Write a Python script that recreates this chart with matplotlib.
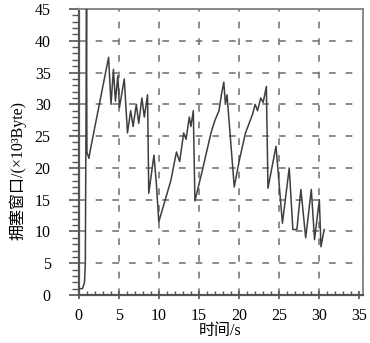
import numpy as np
import matplotlib
matplotlib.use('Agg')
import matplotlib.pyplot as plt
from matplotlib.ticker import MultipleLocator

# congestion window trace
time_s = [0, 0.5, 0.75, 0.85, 1.0, 1.05, 1.3, 1.5,
          3.75, 4.05, 4.35, 4.6, 4.9, 5.1, 5.7, 6.1, 6.5, 6.8, 7.2, 7.5,
          7.9, 8.2, 8.6, 8.75, 9.4, 9.7, 10.0,
          11.5, 12.2, 12.6, 13.1, 13.4, 13.8, 14.0, 14.3, 14.5,
          15.5, 16.5, 17.0, 17.5, 17.8, 18.1, 18.3, 18.5, 19.4,
          20.0, 20.8, 21.7, 22.0, 22.3, 22.7, 23.0, 23.4, 23.6,
          24.6, 25.4, 26.25, 26.7, 27.2, 27.7, 28.3, 29.0, 29.4, 30.0, 30.2, 30.6]
cwnd_kb = [1.0, 1.0, 2.0, 5.0, 45.0, 22.5, 21.5, 23.0,
           37.4, 30.0, 35.5, 30.5, 34.5, 29.5, 34.0, 25.5, 29.0, 26.5, 30.0, 27.0,
           31.0, 28.0, 31.5, 16.0, 22.0, 17.5, 11.5,
           18.0, 22.5, 21.0, 25.5, 24.5, 28.0, 26.5, 29.0, 14.8,
           20.0, 25.5, 27.5, 29.0, 31.5, 33.5, 30.0, 31.5, 17.0,
           21.0, 25.5, 28.5, 30.0, 29.0, 31.0, 30.3, 32.8, 16.8,
           23.4, 11.3, 20.0, 10.3, 10.3, 16.6, 9.0, 16.6, 8.7, 15.0, 7.6, 10.3]

x_ticks = np.arange(0, 36, 5)
y_ticks = np.arange(0, 46, 5)

serif_cjk = ['Liberation Serif', 'Noto Sans CJK SC']

fig = plt.figure(figsize=(3.7, 3.43), dpi=100)
ax = fig.add_axes([78.5/370, 48/343, 284.2/370, 286/343])

ax.plot(time_s, cwnd_kb, color='#3f3f3f', lw=1.1, zorder=3)

ax.set_xlim(0, 35.4)
ax.set_ylim(0, 45)
ax.set_xticks(x_ticks)
ax.set_yticks(y_ticks)
ax.xaxis.set_minor_locator(MultipleLocator(1))
ax.yaxis.set_minor_locator(MultipleLocator(1))

for gx in x_ticks[1:-1]:
    ax.axvline(gx, color='#777777', lw=1.2, ls=(0, (4, 6)), zorder=1)
for gy in y_ticks[1:-1]:
    ax.axhline(gy, color='#777777', lw=1.2, ls=(0, (4, 6)), zorder=1)

for side in ['left', 'bottom']:
    ax.spines[side].set_color('#555555')
    ax.spines[side].set_linewidth(1.6)
for side in ['top', 'right']:
    ax.spines[side].set_color('#888888')
    ax.spines[side].set_linewidth(1.4)

ax.tick_params(axis='x', which='major', direction='inout', length=6, width=1.2,
               color='#555555', pad=6)
ax.tick_params(axis='x', which='minor', direction='in', length=3, width=1.0,
               color='#555555')
ax.tick_params(axis='y', which='major', direction='out', length=7, width=1.2,
               color='#555555', pad=13)
ax.tick_params(axis='y', which='minor', direction='out', length=5, width=1.0,
               color='#555555')

for lab in ax.get_xticklabels() + ax.get_yticklabels():
    lab.set_family('Liberation Serif')
    lab.set_fontsize(11.5)

ax.set_xlabel('时间/s', family=serif_cjk, fontsize=11.5, labelpad=0)
ax.set_ylabel('拥塞窗口/(×10³Byte)', family=serif_cjk, fontsize=11.5)
ax.yaxis.set_label_coords(-0.184, 0.434)

fig.savefig('out.png', dpi=100)
